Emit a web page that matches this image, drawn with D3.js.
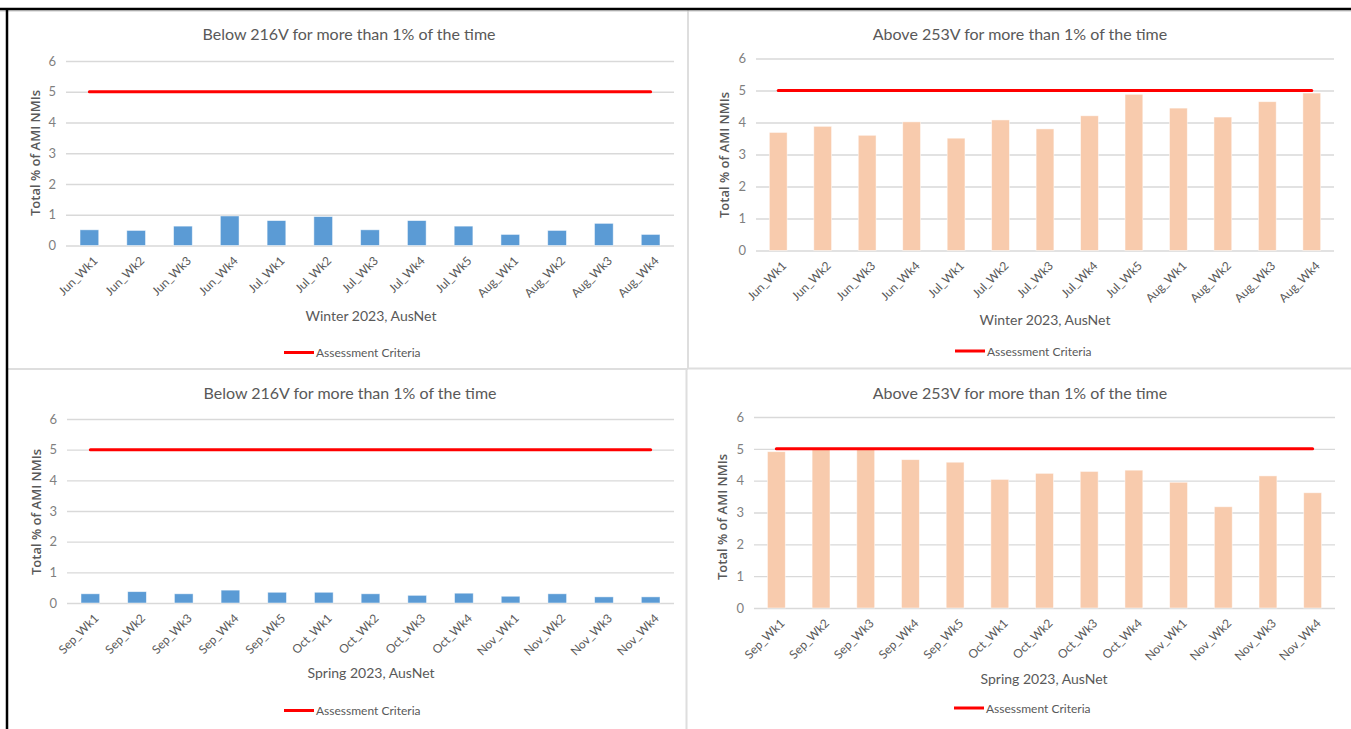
<!DOCTYPE html>
<html>
<head>
<meta charset="utf-8">
<script src="https://cdn.jsdelivr.net/npm/d3@7"></script>
<style>
    body { margin: 0; background: #fff; }
    svg { display: block; }
    .txt { font-family: Lato, 'Open Sans', sans-serif; fill: #595959; }
</style>
</head>
<body>
<div id="chart"></div>
<script>
// 데이터
const winterWeeks = ['Jun_Wk1', 'Jun_Wk2', 'Jun_Wk3', 'Jun_Wk4', 'Jul_Wk1', 'Jul_Wk2', 'Jul_Wk3', 'Jul_Wk4', 'Jul_Wk5', 'Aug_Wk1', 'Aug_Wk2', 'Aug_Wk3', 'Aug_Wk4']
const springWeeks = ['Sep_Wk1', 'Sep_Wk2', 'Sep_Wk3', 'Sep_Wk4', 'Sep_Wk5', 'Oct_Wk1', 'Oct_Wk2', 'Oct_Wk3', 'Oct_Wk4', 'Nov_Wk1', 'Nov_Wk2', 'Nov_Wk3', 'Nov_Wk4']

const winterBelow216 = [0.51, 0.49, 0.63, 0.96, 0.81, 0.94, 0.51, 0.81, 0.63, 0.36, 0.49, 0.72, 0.36]
const winterAbove253 = [3.69, 3.88, 3.6, 4.02, 3.51, 4.08, 3.8, 4.21, 4.88, 4.45, 4.17, 4.65, 4.92]
const springBelow216 = [0.3, 0.37, 0.3, 0.42, 0.35, 0.35, 0.3, 0.25, 0.32, 0.22, 0.3, 0.2, 0.2]
const springAbove253 = [4.91, 4.98, 4.98, 4.66, 4.58, 4.04, 4.23, 4.29, 4.33, 3.95, 3.18, 4.15, 3.62]

const assessmentCriteria = 5
const yTicks = [0, 1, 2, 3, 4, 5, 6]

const titleBelow = 'Below 216V for more than 1% of the time'
const titleAbove = 'Above 253V for more than 1% of the time'
const yTitle = 'Total % of AMI NMIs'
const winterLabel = 'Winter 2023, AusNet'
const springLabel = 'Spring 2023, AusNet'
const legendLabel = 'Assessment Criteria'

const blue = '#5b9bd5'
const peach = '#f8cbad'
const red = '#ff0000'

const width = 1351
const height = 729

const svg = d3.select('#chart').append('svg').attr('width', width).attr('height', height)

// 패널 구분선 & 테두리
svg.append('line').attr('x1', 688).attr('x2', 688).attr('y1', 10).attr('y2', 369).attr('stroke', '#dedede').attr('stroke-width', 2)
svg.append('line').attr('x1', 686.5).attr('x2', 686.5).attr('y1', 369).attr('y2', height).attr('stroke', '#dedede').attr('stroke-width', 2)
svg.append('line').attr('x1', 8).attr('x2', 688).attr('y1', 369).attr('y2', 369).attr('stroke', '#dedede').attr('stroke-width', 2)
svg.append('line').attr('x1', 688).attr('x2', width).attr('y1', 368.5).attr('y2', 368.5).attr('stroke', '#dedede').attr('stroke-width', 2)
svg.append('line').attr('x1', 0).attr('x2', width).attr('y1', 11).attr('y2', 11).attr('stroke', '#c8c8c8').attr('stroke-width', 1)
svg.append('line').attr('x1', 0).attr('x2', width).attr('y1', 9).attr('y2', 9).attr('stroke', '#000').attr('stroke-width', 2.5)
svg.append('line').attr('x1', 7).attr('x2', 7).attr('y1', 8).attr('y2', height).attr('stroke', '#000').attr('stroke-width', 2.5)

const drawPanel = (p) => {
    const g = svg.append('g')

    const x = d3.scaleBand().domain(p.weeks).range([p.left, p.right]).paddingInner(0.6).paddingOuter(0.3)
    const y = d3.scaleLinear().domain([0, 6]).range([p.bottom, p.top])

    // 그리드
    const gYAxis = g.append('g').attr('transform', `translate(${p.left}, 0)`)
    gYAxis.call(d3.axisLeft(y).tickValues(yTicks).tickFormat(d3.format('d')).tickSize(-(p.right - p.left)).tickPadding(10))
    gYAxis.select('.domain').remove()
    gYAxis.selectAll('line').attr('stroke', '#d9d9d9').attr('stroke-width', 1.3)
    gYAxis.selectAll('text').style('font-size', '13px').style('font-family', 'Lato, sans-serif').attr('fill', '#7f7f7f')

    // 막대
    g.selectAll('rect.bar')
        .data(p.values)
        .enter()
        .append('rect')
        .attr('class', 'bar')
        .attr('x', (d, i) => x(p.weeks[i]))
        .attr('width', x.bandwidth())
        .attr('y', (d) => y(d))
        .attr('height', (d) => y(0) - y(d))
        .attr('fill', p.color)
        .attr('stroke', 'rgba(255,255,255,0.6)')
        .attr('stroke-width', 0.8)

    // 기준선
    const first = x(p.weeks[0]) + x.bandwidth() / 2
    const last = x(p.weeks[p.weeks.length - 1]) + x.bandwidth() / 2
    g.append('line')
        .attr('x1', first)
        .attr('x2', last)
        .attr('y1', y(assessmentCriteria))
        .attr('y2', y(assessmentCriteria))
        .attr('stroke', red)
        .attr('stroke-width', 3)
        .attr('stroke-linecap', 'round')

    // x 축 라벨
    const gXAxis = g.append('g').attr('transform', `translate(0, ${y(0)})`)
    gXAxis.call(d3.axisBottom(x).tickSize(0))
    gXAxis.select('.domain').remove()
    gXAxis
        .selectAll('text')
        .attr('class', 'txt')
        .style('font-size', '12px')
        .style('font-family', 'Lato, sans-serif')
        .attr('fill', '#595959')
        .attr('text-anchor', 'end')
        .attr('x', 0)
        .attr('y', 0)
        .attr('dy', '0.35em')
        .attr('transform', 'translate(6, 13) rotate(-45)')

    // 제목
    g.append('text')
        .attr('class', 'txt')
        .attr('x', p.titleX)
        .attr('y', p.titleY)
        .attr('text-anchor', 'middle')
        .attr('dominant-baseline', 'central')
        .style('font-size', '16px')
        .text(p.title)

    g.append('text')
        .attr('fill', '#595959')
        .attr('transform', `translate(${p.yTitleX}, ${p.yTitleY}) rotate(-90)`)
        .attr('text-anchor', 'middle')
        .attr('dominant-baseline', 'central')
        .style('font-family', "'Open Sans', sans-serif")
        .style('font-size', '13px')
        .style('font-weight', 600)
        .text(yTitle)

    g.append('text')
        .attr('class', 'txt')
        .attr('x', p.xTitleX)
        .attr('y', p.xTitleY)
        .attr('text-anchor', 'middle')
        .attr('dominant-baseline', 'central')
        .style('font-size', '14px')
        .text(p.xTitle)

    // 범례
    g.append('line')
        .attr('x1', p.legendX)
        .attr('x2', p.legendX + 30)
        .attr('y1', p.legendY)
        .attr('y2', p.legendY)
        .attr('stroke', red)
        .attr('stroke-width', 3)
    g.append('text')
        .attr('class', 'txt')
        .attr('x', p.legendX + 32)
        .attr('y', p.legendY)
        .attr('dominant-baseline', 'central')
        .style('font-size', '12px')
        .text(legendLabel)
}

drawPanel({ weeks: winterWeeks, values: winterBelow216, color: blue, title: titleBelow, xTitle: winterLabel,
    left: 66, right: 674, top: 61, bottom: 245.5, titleX: 349, titleY: 33, yTitleX: 35, yTitleY: 153, xTitleX: 371, xTitleY: 315, legendX: 284, legendY: 352.5 })
drawPanel({ weeks: winterWeeks, values: winterAbove253, color: peach, title: titleAbove, xTitle: winterLabel,
    left: 756, right: 1334, top: 58.5, bottom: 250.5, titleX: 1020, titleY: 33, yTitleX: 724, yTitleY: 155, xTitleX: 1045, xTitleY: 319, legendX: 955, legendY: 351 })
drawPanel({ weeks: springWeeks, values: springBelow216, color: blue, title: titleBelow, xTitle: springLabel,
    left: 67, right: 674, top: 419, bottom: 603, titleX: 350, titleY: 392, yTitleX: 36, yTitleY: 512, xTitleX: 371, xTitleY: 672, legendX: 284, legendY: 710.5 })
drawPanel({ weeks: springWeeks, values: springAbove253, color: peach, title: titleAbove, xTitle: springLabel,
    left: 754, right: 1335, top: 417, bottom: 608, titleX: 1020, titleY: 392, yTitleX: 722, yTitleY: 517, xTitleX: 1044, xTitleY: 678, legendX: 954, legendY: 708 })
</script>
</body>
</html>
